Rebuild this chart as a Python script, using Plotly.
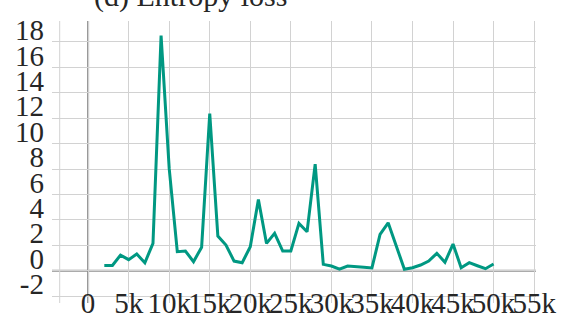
import plotly.graph_objects as go

# Training steps (x) and entropy loss (y)
steps = [2000, 3000, 4000, 5000, 6000, 7000, 8000, 9000, 10000, 11000,
         12000, 13000, 14000, 15000, 16000, 17000, 18000, 19000, 20000, 21000,
         22000, 23000, 24000, 25000, 26000, 27000, 28000, 29000, 30000, 31000,
         32000, 33000, 34000, 35000, 36000, 37000, 39000, 40000, 41000, 42000,
         43000, 44000, 45000, 46000, 47000, 48000, 49000, 50000]
entropy_loss = [0.42, 0.42, 1.23, 0.87, 1.31, 0.63, 2.15, 18.5, 8.05, 1.50,
                1.55, 0.71, 1.85, 12.37, 2.73, 2.02, 0.76, 0.63, 1.89, 5.61,
                2.15, 2.94, 1.55, 1.55, 3.72, 3.07, 8.39, 0.50, 0.37, 0.13,
                0.37, 0.30, 0.28, 0.22, 2.86, 3.77, 0.12, 0.24, 0.45, 0.76,
                1.37, 0.66, 2.10, 0.24, 0.63, 0.39, 0.16, 0.53]

x_tick_vals = [0, 5000, 10000, 15000, 20000, 25000, 30000, 35000, 40000, 45000, 50000, 55000]
x_tick_text = ["0", "5k", "10k", "15k", "20k", "25k", "30k", "35k", "40k", "45k", "50k", "55k"]
y_tick_vals = [-2, 0, 2, 4, 6, 8, 10, 12, 14, 16, 18]
y_tick_text = ["-2", "0", "2", "4", "6", "8", "10", "12", "14", "16", "18"]

LINE_COLOR = "#009882"
GRID_COLOR = "#d2d2d2"
AXIS_COLOR = "#8f8f8f"
TEXT_COLOR = "#262626"
FONT = "Liberation Serif"
TICK_FONT = dict(family=FONT, size=29, color=TEXT_COLOR)

fig = go.Figure(
    go.Scatter(x=steps, y=entropy_loss, mode="lines",
               line=dict(color=LINE_COLOR, width=3), hoverinfo="skip")
)

fig.update_layout(
    template="none",
    width=574, height=325,
    margin=dict(l=52, r=38, t=21, b=22, pad=0),
    plot_bgcolor="white", paper_bgcolor="white",
    showlegend=False,
    font=dict(family=FONT, size=28, color=TEXT_COLOR),
)

fig.update_xaxes(
    range=[-4450, 55230], automargin=False,
    tickmode="array", tickvals=x_tick_vals, ticktext=x_tick_text,
    tickfont=TICK_FONT,
    tickangle=0, ticks="", showline=False,
    showgrid=True, gridcolor=GRID_COLOR, gridwidth=1,
    zeroline=False,
    ticklabelstandoff=-20,
)
fig.update_yaxes(
    range=[-2.54, 19.65], automargin=False,
    tickmode="array", tickvals=y_tick_vals, ticktext=y_tick_text,
    tickfont=TICK_FONT,
    ticks="", showline=False,
    showgrid=True, gridcolor=GRID_COLOR, gridwidth=1,
    zeroline=False,
    ticklabelshift=-12,
    ticklabelstandoff=7,
)

# Axes through the origin, drawn above the grid
fig.add_shape(type="line", xref="x", yref="paper", x0=0, x1=0, y0=0, y1=1,
              line=dict(color=AXIS_COLOR, width=2), layer="below")
fig.add_shape(type="line", xref="paper", yref="y", x0=0, x1=1, y0=0, y1=0,
              line=dict(color=AXIS_COLOR, width=2), layer="below")
# Left boundary guide line
fig.add_shape(type="line", xref="x", yref="paper", x0=-3500, x1=-3500, y0=0, y1=1,
              line=dict(color=GRID_COLOR, width=1), layer="below")

fig.add_annotation(
    text="(d) Entropy loss", xref="paper", yref="paper",
    x=0.287, y=1, xanchor="center", yanchor="bottom", yshift=6,
    showarrow=False, font=dict(family=FONT, size=30, color=TEXT_COLOR),
)

fig.write_html("out.html")
